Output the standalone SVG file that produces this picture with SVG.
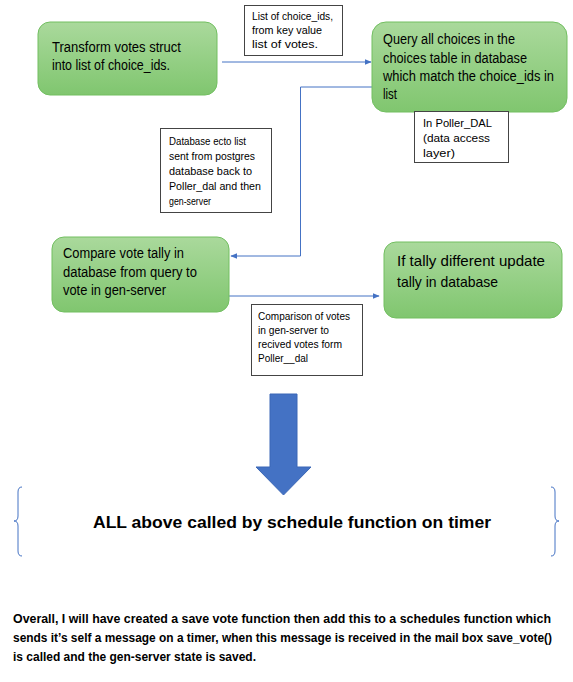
<svg xmlns="http://www.w3.org/2000/svg" width="573" height="682" viewBox="0 0 573 682">
<defs>
<linearGradient id="g" x1="0" y1="0" x2="0" y2="1">
<stop offset="0" stop-color="#aad99c"/>
<stop offset="1" stop-color="#80c66f"/>
</linearGradient>
<marker id="ah" viewBox="0 0 10 10" refX="9" refY="5" markerWidth="7" markerHeight="7" orient="auto" markerUnits="userSpaceOnUse">
<path d="M0,1 L10,5 L0,9 z" fill="#4472c4"/>
</marker>
<style>
.node{fill:url(#g);stroke:#72bf61;stroke-width:1}
.nt{font-family:"Liberation Sans",Arial,sans-serif;font-size:14px;fill:#000}
.lb{fill:#fff;stroke:#444;stroke-width:1}
.lt{font-family:"Liberation Sans",Arial,sans-serif;font-size:10px;fill:#000}
.con{fill:none;stroke:#4472c4;stroke-width:1}
.bt{font-family:"Liberation Sans",Arial,sans-serif;font-weight:bold;fill:#000}
</style>
</defs>
<rect width="573" height="682" fill="#fff"/>

<g id="connectors">
<path class="con" d="M222,62 L371,62" marker-end="url(#ah)"/>
<path class="con" d="M372,87 L300.500,87 L300.500,256 L231,256" marker-end="url(#ah)"/>
<path class="con" d="M229,296 L379,296" marker-end="url(#ah)"/>
</g>

<g id="node-transform">
<rect class="node" x="38" y="22" width="179" height="73" rx="12"/>
<text class="nt" x="52" y="52" textLength="129" lengthAdjust="spacingAndGlyphs">Transform votes struct</text>
<text class="nt" x="52" y="70" textLength="118" lengthAdjust="spacingAndGlyphs">into list of choice_ids.</text>
</g>

<g id="label-choice-ids">
<rect class="lb" x="244.500" y="5.500" width="98" height="50"/>
<text class="lt" x="252" y="20" textLength="81" lengthAdjust="spacingAndGlyphs">List of choice_ids,</text>
<text class="lt" x="252" y="34" textLength="70" lengthAdjust="spacingAndGlyphs">from key value</text>
<text class="lt" x="252" y="48" textLength="66" lengthAdjust="spacingAndGlyphs">list of votes.</text>
</g>

<g id="node-query">
<rect class="node" x="372" y="22" width="195" height="90" rx="14"/>
<text class="nt" x="383" y="44" textLength="132" lengthAdjust="spacingAndGlyphs">Query all choices in the</text>
<text class="nt" x="383" y="63" textLength="144" lengthAdjust="spacingAndGlyphs">choices table in database</text>
<text class="nt" x="383" y="81" textLength="171" lengthAdjust="spacingAndGlyphs">which match the choice_ids in</text>
<text class="nt" x="383" y="99" textLength="14" lengthAdjust="spacingAndGlyphs">list</text>
</g>

<g id="label-dal">
<rect class="lb" x="414.500" y="111.500" width="94" height="51"/>
<text class="lt" x="423" y="127" textLength="69" lengthAdjust="spacingAndGlyphs">In Poller_DAL</text>
<text class="lt" x="423" y="142" textLength="67" lengthAdjust="spacingAndGlyphs">(data access</text>
<text class="lt" x="423" y="157" textLength="32" lengthAdjust="spacingAndGlyphs">layer)</text>
</g>

<g id="label-ecto">
<rect class="lb" x="160.500" y="128.500" width="111" height="84"/>
<text class="lt" x="169" y="145" textLength="77" lengthAdjust="spacingAndGlyphs">Database ecto list</text>
<text class="lt" x="169" y="160" textLength="86" lengthAdjust="spacingAndGlyphs">sent from postgres</text>
<text class="lt" x="169" y="175" textLength="83" lengthAdjust="spacingAndGlyphs">database back to</text>
<text class="lt" x="169" y="190" textLength="92" lengthAdjust="spacingAndGlyphs">Poller_dal and then</text>
<text class="lt" x="169" y="205" textLength="42" lengthAdjust="spacingAndGlyphs">gen-server</text>
</g>

<g id="node-compare">
<rect class="node" x="52" y="237" width="177" height="75" rx="12"/>
<text class="nt" x="63" y="258" textLength="121" lengthAdjust="spacingAndGlyphs">Compare vote tally in</text>
<text class="nt" x="63" y="277" textLength="134" lengthAdjust="spacingAndGlyphs">database from query to</text>
<text class="nt" x="63" y="295" textLength="103" lengthAdjust="spacingAndGlyphs">vote in gen-server</text>
</g>

<g id="node-update">
<rect class="node" x="384" y="242" width="178" height="76" rx="12"/>
<text class="nt" x="397" y="266" style="font-size:15px" textLength="148" lengthAdjust="spacingAndGlyphs">If tally different update</text>
<text class="nt" x="397" y="287" style="font-size:15px" textLength="101" lengthAdjust="spacingAndGlyphs">tally in database</text>
</g>

<g id="label-comparison">
<rect class="lb" x="251.500" y="304.500" width="111" height="71"/>
<text class="lt" x="258" y="320" textLength="92" lengthAdjust="spacingAndGlyphs">Comparison of votes</text>
<text class="lt" x="258" y="334" textLength="71" lengthAdjust="spacingAndGlyphs">in gen-server to</text>
<text class="lt" x="258" y="348" textLength="84" lengthAdjust="spacingAndGlyphs">recived votes form</text>
<text class="lt" x="258" y="362" textLength="50" lengthAdjust="spacingAndGlyphs">Poller__dal</text>
</g>

<g id="big-arrow">
<path d="M270,394 L297,394 L297,467 L311,467 L283.500,495 L256,467 L270,467 z" fill="#4472c4" stroke="#3b67b6" stroke-width="1"/>
</g>

<g id="brace-left">
<path d="M22,487 Q18,487 18,492 L18,516 Q18,521 14,521 Q18,521 18,526 L18,551 Q18,556 22,556" fill="none" stroke="#4472c4" stroke-width="1"/>
</g>
<g id="brace-right">
<path d="M551,487 Q555,487 555,492 L555,516 Q555,521 559,521 Q555,521 555,526 L555,551 Q555,556 551,556" fill="none" stroke="#4472c4" stroke-width="1"/>
</g>

<g id="schedule-title">
<text class="bt" x="93" y="528" style="font-size:17px" textLength="398" lengthAdjust="spacingAndGlyphs">ALL above called by schedule function on timer</text>
</g>

<g id="summary">
<text class="bt" x="13" y="623" style="font-size:12px" textLength="538" lengthAdjust="spacingAndGlyphs">Overall, I will have created a save vote function then add this to a schedules function which</text>
<text class="bt" x="13" y="642" style="font-size:12px" textLength="539" lengthAdjust="spacingAndGlyphs">sends it’s self a message on a timer, when this message is received in the mail box save_vote()</text>
<text class="bt" x="13" y="661" style="font-size:12px" textLength="243" lengthAdjust="spacingAndGlyphs">is called and the gen-server state is saved.</text>
</g>
</svg>
